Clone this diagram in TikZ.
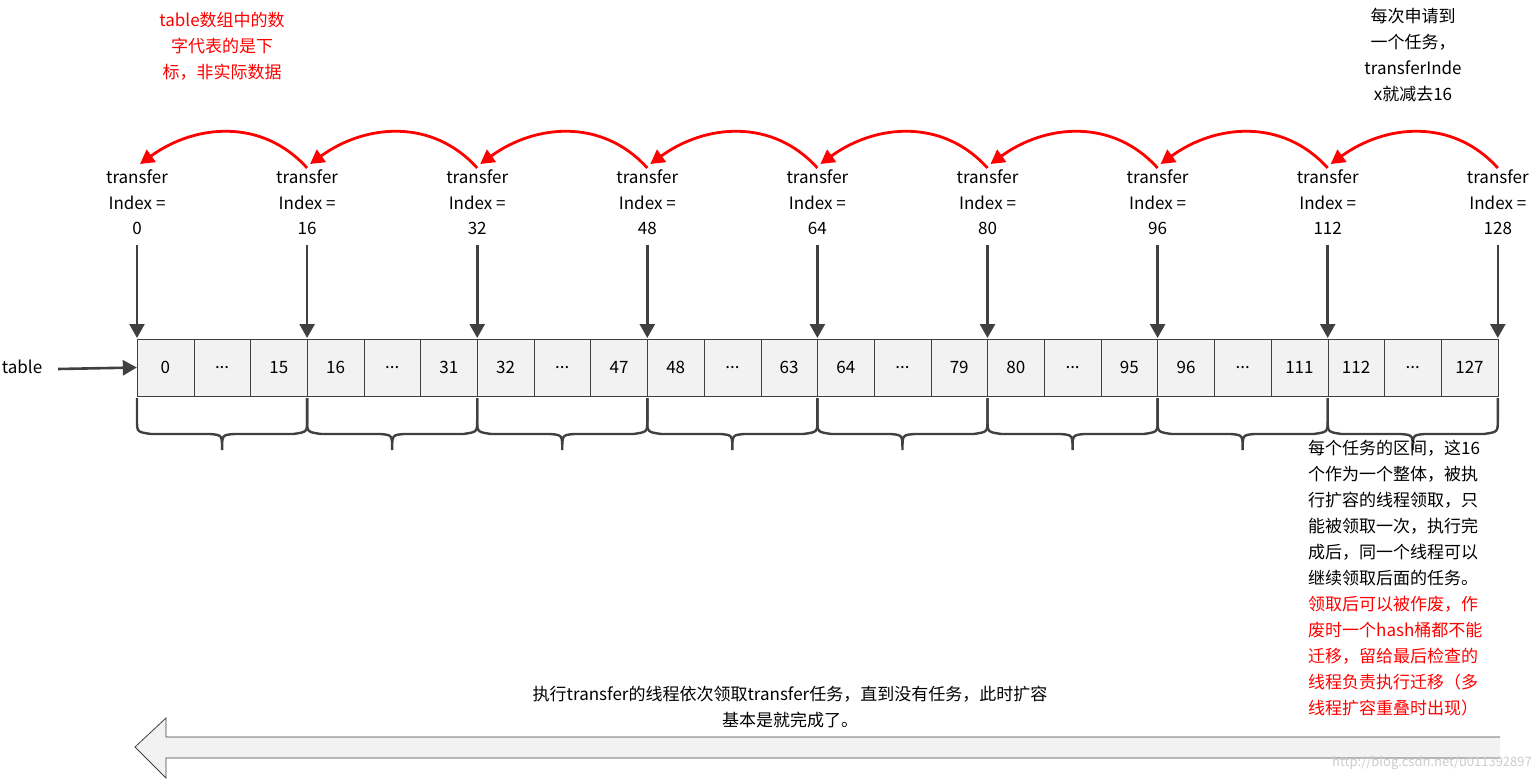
\documentclass[tikz,border=0pt]{standalone}
\usepackage{fontspec}
\setmainfont{Noto Sans CJK SC}
\usetikzlibrary{arrows.meta,calc}
\definecolor{linegray}{RGB}{64,64,64}
\definecolor{cellfill}{RGB}{242,242,242}
\newcommand\celldots{...}
\begin{document}
\begin{tikzpicture}[x=1pt,y=-1pt,
  cell/.style={draw=linegray,fill=cellfill,minimum width=56.7pt,minimum height=57pt,inner sep=0pt,font=\fontsize{17}{20}\selectfont},
  idxlabel/.style={align=center,font=\fontsize{17}{25.5}\selectfont,inner sep=0pt},
  note/.style={align=left,font=\fontsize{17}{26}\selectfont,inner sep=0pt},
  down/.style={-{Triangle[length=14pt,width=15pt]},line width=2.6pt,draw=linegray},
  hop/.style={-{Triangle[length=14pt,width=15pt]},line width=2.8pt,draw=red}]
\useasboundingbox (0,0) rectangle (1534,782);

% table cells
\foreach \v [count=\i from 0] in {0,\celldots,15,16,\celldots,31,32,\celldots,47,48,\celldots,63,64,\celldots,79,80,\celldots,95,96,\celldots,111,112,\celldots,127}
  \node[cell] (c\i) at (165.4+56.7*\i,367.5) {\v};

\node[inner sep=0pt,font=\fontsize{17}{20}\selectfont] (tbl) at (22,367) {table};
\draw[down] (58,369) -- (c0.west);

% index labels, pointers and braces
\foreach \k in {0,...,8}{
  \pgfmathtruncatemacro\n{16*\k}
  \coordinate (p\k) at (137+170.1*\k,338);
  \node[idxlabel,anchor=north] (t\k) at (137+170.1*\k,170) {transfer\\Index =\\\n};
  \draw[down] (137+170.1*\k,245) -- (p\k);
}
\foreach \k in {0,...,7}{
  \pgfmathsetmacro\xa{137+170.1*\k}
  \pgfmathsetmacro\xb{\xa+170.1}
  \pgfmathsetmacro\xm{\xa+85.05}
  \draw[linegray,line width=2.4pt] (\xa,398) -- (\xa,420) .. controls (\xa,432) .. (\xa+14,434)
    -- (\xm-12,434) .. controls (\xm,435) .. (\xm,450) .. controls (\xm,435) .. (\xm+12,434)
    -- (\xb-14,434) .. controls (\xb,432) .. (\xb,420) -- (\xb,398);
}
% red hops
\foreach \k in {1,...,8}{
  \pgfmathtruncatemacro\j{\k-1}
  \draw[hop] ($(t\k.north)+(0,-2)$) .. controls +(-45,-50) and +(55,-40) .. ($(t\j.north)+(3,-6)$);
}

% notes
\node[note,align=center,text=red] (n1) at (222,46) {table数组中的数\\字代表的是下\\标，非实际数据};
\node[note,align=center] (n2) at (1413,55) {每次申请到\\一个任务，\\transferInde\\x就减去16};
\node[note,anchor=north west] (n3) at (1308,440) {每个任务的区间，这16\\个作为一个整体，被执\\行扩容的线程领取，只\\能被领取一次，执行完\\成后，同一个线程可以\\继续领取后面的任务。\\\textcolor{red}{领取后可以被作废，作}\\\textcolor{red}{废时一个hash桶都不能}\\\textcolor{red}{迁移，留给最后检查的}\\\textcolor{red}{线程负责执行迁移（多}\\\textcolor{red}{线程扩容重叠时出现）}};
\node[note,align=center] (n4) at (790,707) {执行transfer的线程依次领取transfer任务，直到没有任务，此时扩容\\基本是就完成了。};

% big arrow
\draw[linegray,fill=cellfill,line width=0.8pt] (1500,737) -- (166,737) -- (166,718) -- (135,747)
  -- (166,778) -- (166,758) -- (1500,758);
\node[text=black!20,font=\fontsize{13}{15}\selectfont,anchor=south east,inner sep=2pt] (wm) at (1534,772) {http://blog.csdn.net/u011392897};
\end{tikzpicture}
\end{document}
